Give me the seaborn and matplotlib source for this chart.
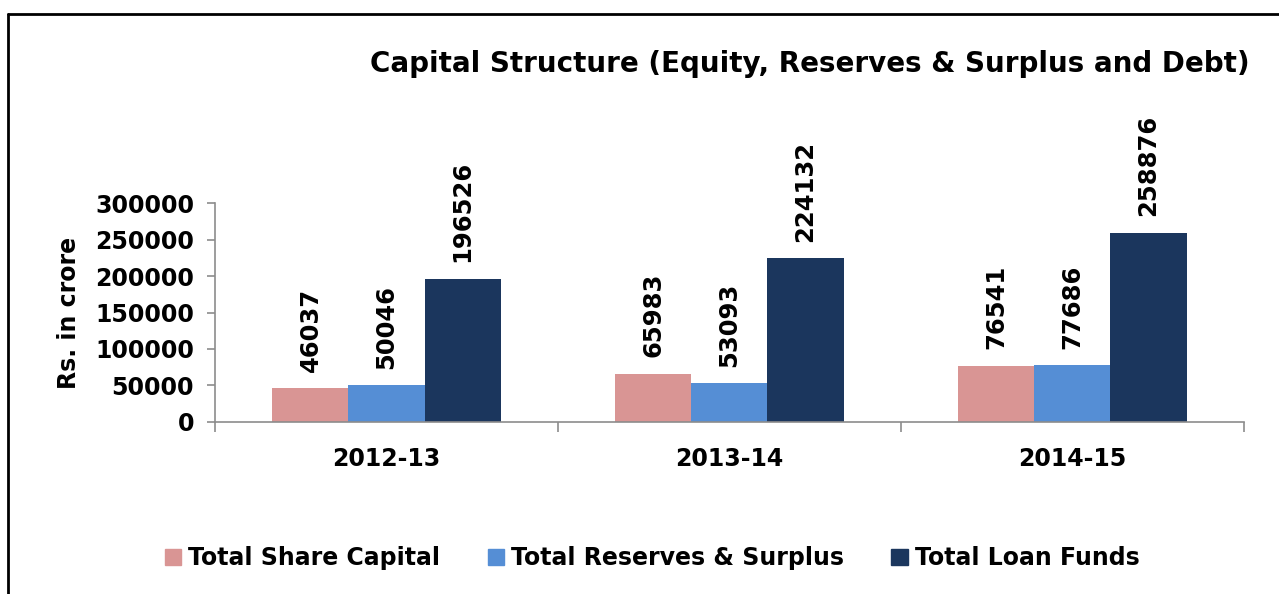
import pandas as pd
import matplotlib.pyplot as plt
import seaborn as sns
from matplotlib.lines import Line2D

# ==========================================
# Data
# ==========================================

years = ["2012-13", "2013-14", "2014-15"]
share_capital = [46037, 65983, 76541]
reserves_surplus = [50046, 53093, 77686]
loan_funds = [196526, 224132, 258876]

series_names = ["Total Share Capital", "Total Reserves & Surplus", "Total Loan Funds"]
colors = ["#D99594", "#558ED5", "#1B365D"]

df = pd.DataFrame({
    "year": years * 3,
    "series": [series_names[0]] * 3 + [series_names[1]] * 3 + [series_names[2]] * 3,
    "value": share_capital + reserves_surplus + loan_funds,
})

# ==========================================
# Plot
# ==========================================

sns.set_style("white")
plt.rcParams["font.family"] = ["DejaVu Sans"]
plt.rcParams["font.weight"] = "bold"
plt.rcParams["text.color"] = "black"
plt.rcParams["axes.labelcolor"] = "black"
plt.rcParams["xtick.labelcolor"] = "black"
plt.rcParams["ytick.labelcolor"] = "black"

fig = plt.figure(figsize=(12.79, 5.94), dpi=100)
ax = fig.add_axes([0.1681, 0.2896, 0.8045, 0.3686])

sns.barplot(
    data=df, x="year", y="value", hue="series",
    palette=colors, width=0.665, gap=0, saturation=1,
    edgecolor="none", ax=ax, legend=False
)

for cont in ax.containers:
    ax.bar_label(cont, rotation=90, padding=12, fontsize=17.5, fontweight="bold",
                 color="black")

ax.set_ylim(0, 300000)
ax.set_xlim(-0.5, 2.5)
ax.set_yticks([0, 50000, 100000, 150000, 200000, 250000, 300000])
ax.tick_params(axis="y", labelsize=17, length=6, width=1.2, color="#8C8C8C",
               left=True, direction="out", pad=9)
ax.set_xticks([0, 1, 2])
ax.set_xticks([-0.5, 0.5, 1.5, 2.5], minor=True)
ax.tick_params(axis="x", which="major", length=0, labelsize=17, pad=18)
ax.tick_params(axis="x", which="minor", length=7, width=1.2, color="#8C8C8C",
               bottom=True, direction="out")

for lbl in ax.get_xticklabels() + ax.get_yticklabels():
    lbl.set_fontweight("bold")

ax.set_xlabel("")
ax.set_ylabel("Rs. in crore", fontsize=17, fontweight="bold", labelpad=10)

for side in ["top", "right"]:
    ax.spines[side].set_visible(False)
for side in ["left", "bottom"]:
    ax.spines[side].set_color("#8C8C8C")
    ax.spines[side].set_linewidth(1.2)

fig.text(0.633, 0.893, "Capital Structure (Equity, Reserves & Surplus and Debt)",
         ha="center", va="center", fontsize=20, fontweight="bold")

handles = [plt.Rectangle((0, 0), 1, 1, color=c) for c in colors]
fig.legend(handles, series_names, loc="center", bbox_to_anchor=(0.51, 0.06),
           ncol=3, frameon=False, handlelength=0.7, handleheight=0.7,
           handletextpad=0.3, columnspacing=2.0, prop={"weight": "bold", "size": 17})

# frame lines (top and left)
fig.add_artist(Line2D([0.0063, 1.0], [0.9764, 0.9764], transform=fig.transFigure,
                      color="black", linewidth=2))
fig.add_artist(Line2D([0.0063, 0.0063], [0.0, 0.9764], transform=fig.transFigure,
                      color="black", linewidth=2))

plt.savefig("out.png", dpi=100)
plt.close()
